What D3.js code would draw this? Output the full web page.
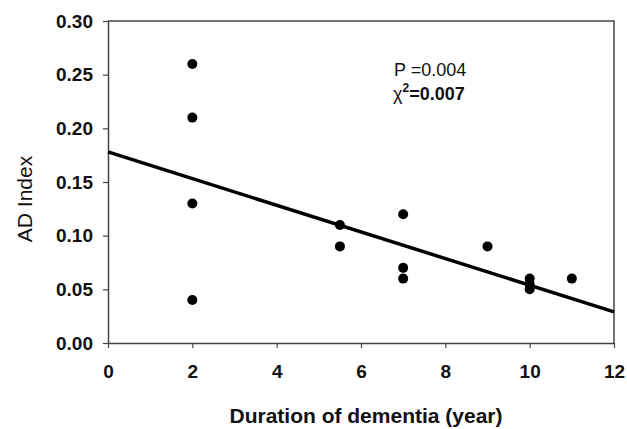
<!DOCTYPE html>
<html>
<head>
<meta charset="utf-8">
<script src="https://cdn.jsdelivr.net/npm/d3@7"></script>
<style>
  body { margin: 0; background: #fff; }
  text { font-family: "Liberation Sans", Arial, sans-serif; }
</style>
</head>
<body>
<svg id="chart" width="627" height="429"></svg>
<script>
'use strict'

// data
const durations = [2, 2, 2, 2, 5.5, 5.5, 7, 7, 7, 9, 10, 10, 10, 11]
const adIndex = [0.26, 0.21, 0.13, 0.04, 0.11, 0.09, 0.12, 0.07, 0.06, 0.09, 0.06, 0.055, 0.05, 0.06]
const fitX = [0, 12]
const fitY = [0.178, 0.029]
const xTicks = [0, 2, 4, 6, 8, 10, 12]
const yTicks = [0, 0.05, 0.1, 0.15, 0.2, 0.25, 0.3]

const margin = { top: 21, right: 13, bottom: 86, left: 108 }
const width = 627 - margin.left - margin.right
const height = 429 - margin.top - margin.bottom

const svg = d3.select('#chart')
const g = svg.append('g')
  .attr('transform', 'translate(' + margin.left + ',' + margin.top + ')')

const x = d3.scaleLinear().domain([0, 12]).range([0, width])
const y = d3.scaleLinear().domain([0, 0.3]).range([height, 0])

// frame (top and right)
g.append('path')
  .attr('d', 'M0,0H' + width + 'V' + height)
  .attr('fill', 'none')
  .attr('stroke', '#444')
  .attr('stroke-width', 1.5)

const xAxis = g.append('g')
  .attr('transform', 'translate(0,' + height + ')')
  .call(d3.axisBottom(x).tickValues(xTicks).tickSize(5).tickSizeOuter(0).tickPadding(17))
const yAxis = g.append('g')
  .call(d3.axisLeft(y).tickValues(yTicks).tickSize(5).tickSizeOuter(0).tickPadding(10)
    .tickFormat(d3.format('.2f')))

;[xAxis, yAxis].forEach(a => {
  a.select('.domain').attr('stroke', '#444').attr('stroke-width', 1.5)
  a.selectAll('.tick line').attr('stroke', '#444').attr('stroke-width', 1.2)
  a.selectAll('.tick text')
    .attr('fill', '#111')
    .style('font-size', '19px')
    .style('font-weight', 'bold')
    .style('font-family', '"Liberation Sans", Arial, sans-serif')
})

// regression line
g.append('line')
  .attr('x1', x(fitX[0])).attr('y1', y(fitY[0]))
  .attr('x2', x(fitX[1])).attr('y2', y(fitY[1]))
  .attr('stroke', '#000')
  .attr('stroke-width', 3.5)

g.selectAll('circle.pt')
  .data(durations.map((d, i) => ({ d: d, v: adIndex[i] })))
  .enter()
  .append('circle')
  .attr('class', 'pt')
  .attr('cx', p => x(p.d))
  .attr('cy', p => y(p.v))
  .attr('r', 5)
  .attr('fill', '#000')

// stats
const stats = svg.append('g')
stats.append('text')
  .attr('x', 394).attr('y', 76)
  .style('font-size', '18px')
  .attr('fill', '#111')
  .text('P =0.004')
const chi = stats.append('text')
  .attr('x', 393).attr('y', 100)
  .style('font-size', '18px')
  .attr('fill', '#111')
chi.append('tspan').text('χ')
chi.append('tspan').attr('dy', -8).style('font-size', '12px').style('font-weight', 'bold').text('2')
chi.append('tspan').attr('dy', 8).style('font-weight', 'bold').text('=0.007')

// axis labels
svg.append('text')
  .attr('x', 366)
  .attr('y', 423)
  .attr('text-anchor', 'middle')
  .style('font-size', '21px')
  .style('font-weight', 'bold')
  .attr('fill', '#111')
  .text('Duration of dementia (year)')

svg.append('text')
  .attr('transform', 'translate(32,199) rotate(-90)')
  .attr('text-anchor', 'middle')
  .style('font-size', '21px')
  .attr('fill', '#111')
  .text('AD Index')
</script>
</body>
</html>
